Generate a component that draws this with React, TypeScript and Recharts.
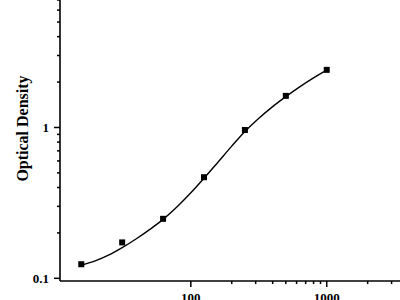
import React from 'react';
import { ComposedChart, Line, Scatter, XAxis, YAxis } from 'recharts';

// standard points (concentration vs OD)
const concentrations = [15.63, 31.25, 62.5, 125, 250, 500, 1000];
const densities = [0.124, 0.173, 0.248, 0.468, 0.962, 1.62, 2.41];

// fitted curve
const fitX = [15.63, 20, 25, 31.25, 40, 50, 62.5, 80, 100, 125, 160, 200, 250, 320, 400, 500, 640, 800, 1000];
const fitY = [0.1225, 0.131, 0.1429, 0.1597, 0.1837, 0.2111, 0.2458, 0.3004, 0.3688, 0.4605, 0.5953, 0.752, 0.9404, 1.161, 1.375, 1.601, 1.875, 2.134, 2.399];

const xTicks = [100, 200, 300, 400, 500, 600, 700, 800, 900, 1000, 2000, 3000];
const xLabels = [100, 1000];
const yTicks = [0.1, 0.2, 0.3, 0.4, 0.5, 0.6, 0.7, 0.8, 0.9, 1, 2, 3, 4, 5, 6, 7];
const yLabels = [0.1, 1];

const points = concentrations.map((x, i) => ({ x, y: densities[i] }));
const curve = fitX.map((x, i) => ({ x, y: fitY[i] }));

const font = '"Liberation Serif", "Times New Roman", serif';

const XTick = (props: any) => {
  const { x, y, payload } = props;
  const major = xLabels.includes(payload.value);
  return (
    <g>
      <line x1={x} x2={x} y1={y} y2={y + (major ? 6 : 3)} stroke="#000" strokeWidth={1.5} />
      {major && (
        <text x={x} y={y + 21} textAnchor="middle" fontFamily={font} fontWeight="bold" fontSize={13} fill="#000">
          {payload.value}
        </text>
      )}
    </g>
  );
};

const YTick = (props: any) => {
  const { x, y, payload } = props;
  const major = yLabels.includes(payload.value);
  return (
    <g>
      <line x1={x} x2={x - (major ? 6 : 3)} y1={y} y2={y} stroke="#000" strokeWidth={1.5} />
      {major && (
        <text x={x - 11} y={y} dy="0.35em" textAnchor="end" fontFamily={font} fontWeight="bold" fontSize={13} fill="#000">
          {payload.value}
        </text>
      )}
    </g>
  );
};

const Square = (props: any) => (
  <rect x={props.cx - 3} y={props.cy - 3} width={6} height={6} fill="#000" />
);

export default function App() {
  return (
    <div style={{ position: 'absolute', left: 0, top: 0, background: '#fff' }}>
      <ComposedChart width={400} height={300} margin={{ top: 0, right: 0, bottom: 0, left: 0 }}>
        <XAxis
          dataKey="x"
          type="number"
          scale="log"
          domain={[10.9, 3460]}
          allowDataOverflow
          ticks={xTicks}
          interval={0}
          tick={<XTick />}
          tickLine={false}
          tickSize={0}
          tickMargin={0}
          height={19}
          axisLine={{ stroke: '#000', strokeWidth: 1.6 }}
        />
        <YAxis
          dataKey="y"
          type="number"
          scale="log"
          domain={[0.096, 7]}
          allowDataOverflow
          ticks={yTicks}
          interval={0}
          tick={<YTick />}
          tickLine={false}
          tickSize={0}
          tickMargin={0}
          width={60}
          axisLine={{ stroke: '#000', strokeWidth: 1.6 }}
          label={{
            content: () => (
              <text
                transform="translate(28,128.5) rotate(-90)"
                textAnchor="middle"
                fontFamily={font}
                fontWeight="bold"
                fontSize={16}
                fill="#000"
              >
                Optical Density
              </text>
            ),
          }}
        />
        <Line
          data={curve}
          dataKey="y"
          type="monotone"
          stroke="#000"
          strokeWidth={1.4}
          dot={false}
          activeDot={false}
          isAnimationActive={false}
        />
        <Scatter data={points} dataKey="y" shape={<Square />} isAnimationActive={false} />
      </ComposedChart>
    </div>
  );
}
